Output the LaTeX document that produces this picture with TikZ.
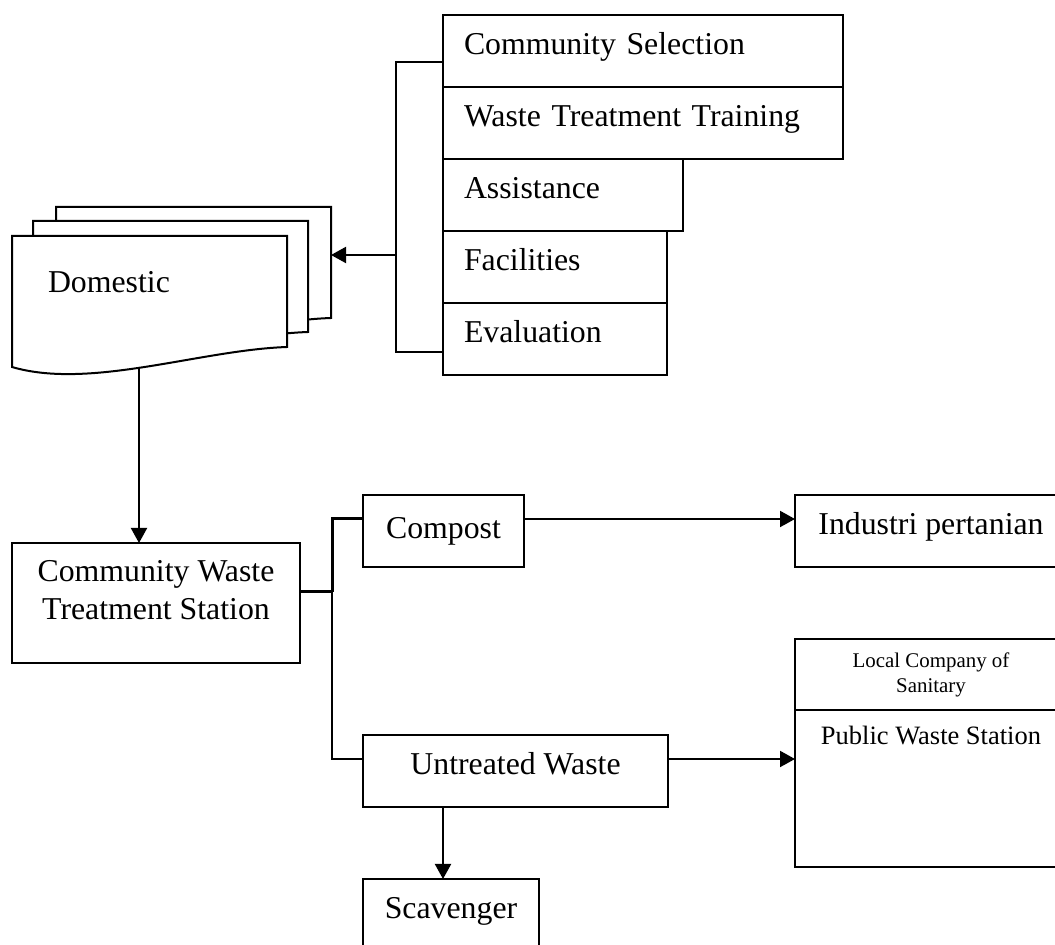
\documentclass[tikz,border=0pt]{standalone}
\usepackage{fontspec}
\setmainfont{Liberation Serif}
\usetikzlibrary{positioning,arrows.meta}

\begin{document}
\begin{tikzpicture}[
    x=0.5pt, y=-0.5pt,
    line width=1pt,
    every node/.style={font=\fontsize{15.9}{19}\selectfont},
    stepbox/.style={draw, outer sep=0pt, anchor=north west, minimum height=36pt,
                    inner xsep=10.5pt, text width=#1, align=left,
                    text height=11pt, text depth=7.5pt},
    box/.style={draw, outer sep=0pt, minimum height=36pt, align=center,
                text height=11pt, text depth=7.5pt},
    sheet/.style={draw, fill=white},
    >={Triangle[length=7.5pt, width=8pt]}
  ]
  \useasboundingbox (0,0) rectangle (1055,945);

  % programme steps
  \node[stepbox=179pt] (sel) at (443,15) {Community Selection};
  \node[stepbox=179pt] (train) at (sel.south west) {Waste Treatment Training};
  \node[stepbox=99pt] (assist) at (train.south west) {Assistance};
  \node[stepbox=91pt] (facil) at (assist.south west) {Facilities};
  \node[stepbox=91pt] (evalu) at (facil.south west) {Evaluation};

  % domestic sources
  \foreach \dx/\dy in {44/-29, 21/-15, 0/0}
    \draw[sheet, shift={(\dx,\dy)}] (12,367) -- (12,236) -- (287,236) -- (287,347)
      .. controls (200,350) and (90,390) .. (12,367) -- cycle;
  \node[anchor=base west, inner sep=0pt] (dom) at (47,293) {Domestic};
  \coordinate (domfoot) at (139,367);
  \coordinate (domback) at (331,255);
  \coordinate (brace) at (396,255);

  \draw ([yshift=-5.5pt]sel.west) -| (brace) |- ([yshift=-6.5pt]evalu.west);
  \draw[->] (brace) -- (domback);

  % treatment and outlets
  \node[box, minimum width=144pt, minimum height=60pt, text height=30pt, text depth=13pt]
    (cwts) at (156,603) {Community Waste\\Treatment Station};
  \node[box, minimum width=80.5pt, text height=12pt, text depth=4pt] (compost) at (443.5,531) {Compost};
  \node[box, minimum width=136pt] (industri) at (931,531) {Industri pertanian};
  \node[box, minimum width=152.5pt] (untreated) at (515.5,771) {Untreated Waste};
  \node[box, minimum width=88pt] (scav) at (451,915) {Scavenger};
  \node[box, minimum width=136pt, minimum height=35.5pt, font=\fontsize{10.45}{12.5}\selectfont,
        text height=21pt, text depth=2.5pt] (lcs) at (931,674.5) {Local Company of\\Sanitary};
  \node[box, below=0pt of lcs, minimum width=136pt, minimum height=78.5pt,
        font=\fontsize{13.25}{16}\selectfont, text height=9.5pt, text depth=53pt]
    (pws) {Public Waste Station};

  \draw[->] (domfoot) -- (domfoot |- cwts.north);

  \coordinate (fork) at (332,592);
  \draw[line width=1.5pt] ([yshift=5.5pt]cwts.east) -- (fork);
  \draw[line width=1.5pt] ([yshift=6pt]compost.west) -| (fork);
  \draw (fork) |- ([yshift=6pt]untreated.west);
  \draw[->] ([yshift=6pt]compost.east) -- ([yshift=6pt]compost.east -| industri.west);
  \draw[->] ([yshift=6pt]untreated.east) -- ([yshift=6pt]untreated.east -| pws.west);
  \draw[->] ([xshift=-4pt]scav.north |- untreated.south) -- ([xshift=-4pt]scav.north);
\end{tikzpicture}
\end{document}
